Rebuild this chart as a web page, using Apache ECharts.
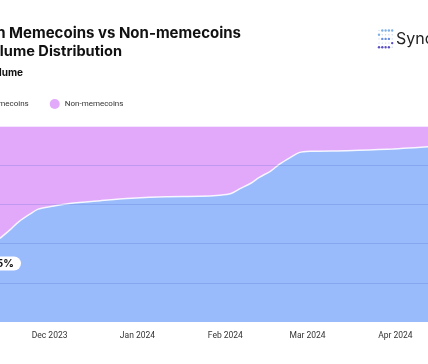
<!DOCTYPE html>
<html>
<head>
<meta charset="utf-8">
<script src="https://cdn.jsdelivr.net/npm/echarts@6/dist/echarts.min.js"></script>
<style>
html,body{margin:0;padding:0;background:#fff;}
#c{width:428px;height:364px;}
</style>
</head>
<body>
<div id="c"></div>
<script>
// Data (share of volume, %)
var dates = ['2023-11-13 12:00','2023-11-17','2023-11-20','2023-11-24','2023-11-27','2023-12-01','2023-12-08','2023-12-19','2023-12-30','2024-01-11','2024-01-23','2024-01-30','2024-02-03','2024-02-06','2024-02-10','2024-02-13','2024-02-17','2024-02-20','2024-02-24','2024-02-27','2024-03-02','2024-03-15','2024-03-29','2024-04-12 12:00'];
var memecoins = [42.7,47.0,51.0,55.0,57.6,58.8,60.5,61.9,63.1,63.9,64.1,64.7,65.6,67.9,70.8,73.8,77.0,80.4,84.0,86.4,87.1,87.4,88.1,89.4];
var nonMemecoins = [57.3,53.0,49.0,45.0,42.4,41.2,39.5,38.1,36.9,36.1,35.9,35.3,34.4,32.1,29.2,26.2,23.0,19.6,16.0,13.6,12.9,12.6,11.9,10.6];
var yTicks = [0,20,40,60,80,100];
var seriesNames = ['Memecoins','Non-memecoins'];

var blue = '#99bbfb';
var purple = '#e2a9fb';
var uiFont = 'Roboto, "Noto Sans", sans-serif';
var titleFont = 'Inter, "Noto Sans", sans-serif';

function pairs(vals){ return dates.map(function(d,i){ return [d, vals[i]]; }); }

var chart = echarts.init(document.getElementById('c'), null, {renderer:'canvas'});

// logo dots
var logoDots = [];
var dotPattern = [[0,1,1,1,1],[1,0,0,0,0],[0,1,1,1,0],[0,0,0,0,1],[1,1,1,1,0]];
for (var r=0;r<5;r++){ for (var c=0;c<5;c++){
  var on = dotPattern[r][c];
  var col = r<2 ? '#7fb0e8' : (r<3 ? '#6a8fe0' : '#5b4fc2');
  logoDots.push({type:'circle', shape:{cx:379+c*3.3, cy:30.5+r*4.2, r: on?1.2:0.7}, style:{fill: on?col:'#c9d6ee'}, silent:true});
}}

var option = {
  backgroundColor:'#ffffff',
  animation:false,
  textStyle:{fontFamily:uiFont},
  legend:{
    data: seriesNames,
    left:-33, top:94,
    icon:'circle', itemWidth:10, itemHeight:10, itemGap:21,
    textStyle:{fontSize:8, color:'#333', fontFamily:uiFont}
  },
  grid:{left:0, right:0, top:126, bottom:42, containLabel:false},
  xAxis:{
    type:'time',
    min:'2023-11-13 12:00', max:'2024-04-12 12:00',
    splitNumber:5,
    axisLine:{show:false}, axisTick:{show:false},
    splitLine:{show:false},
    axisLabel:{formatter:'{MMM} {yyyy}', color:'#333', fontSize:8.5, margin:9, fontFamily:uiFont, showMinLabel:false, showMaxLabel:false}
  },
  yAxis:{
    type:'value', min:0, max:100, interval:20, z:5,
    axisLabel:{show:false}, axisLine:{show:false}, axisTick:{show:false},
    splitLine:{show:true, lineStyle:{width:1, color:['rgba(255,255,255,0.7)','rgba(70,95,200,0.22)','rgba(70,95,200,0.22)','rgba(70,95,200,0.22)','rgba(70,95,200,0.22)','rgba(255,255,255,0.7)']}}
  },
  series:[
    {name:seriesNames[0], type:'line', stack:'share', data:pairs(memecoins), smooth:0.3, showSymbol:false, symbol:'none',
      color: blue, lineStyle:{color:'rgba(255,255,255,0.85)', width:1.5}, areaStyle:{color:blue, opacity:1}, z:2},
    {name:seriesNames[1], type:'line', stack:'share', data:pairs(nonMemecoins), smooth:0.3, showSymbol:false, symbol:'none',
      color: purple, lineStyle:{width:0}, areaStyle:{color:purple, opacity:1}, z:1}
  ],
  graphic:[
    {type:'text', x:241, y:33.5, style:{text:'Solana DEX Activity in Memecoins vs Non-memecoins', font:'bold 15px '+titleFont, fill:'#111', textAlign:'right', textVerticalAlign:'middle'}},
    {type:'text', x:122, y:52, style:{text:'Trading Volume Distribution', font:'bold 14.6px '+titleFont, fill:'#111', textAlign:'right', textVerticalAlign:'middle'}},
    {type:'text', x:23, y:72.5, style:{text:'% of Volume', font:'bold 10px '+titleFont, fill:'#111', textAlign:'right', textVerticalAlign:'middle'}},
    {type:'group', children: logoDots},
    {type:'text', x:396, y:39.5, style:{text:'Syncracy', font:'16px '+titleFont, fill:'#222', textVerticalAlign:'middle'}},
    {type:'rect', x:-30, y:256.5, shape:{width:51, height:14, r:7}, style:{fill:'#fff'}, z:10},
    {type:'text', x:14, y:263.5, style:{text:'25%', font:'bold 10.5px '+titleFont, fill:'#111', textAlign:'right', textVerticalAlign:'middle'}, z:11}
  ]
};
chart.setOption(option);
</script>
</body>
</html>
